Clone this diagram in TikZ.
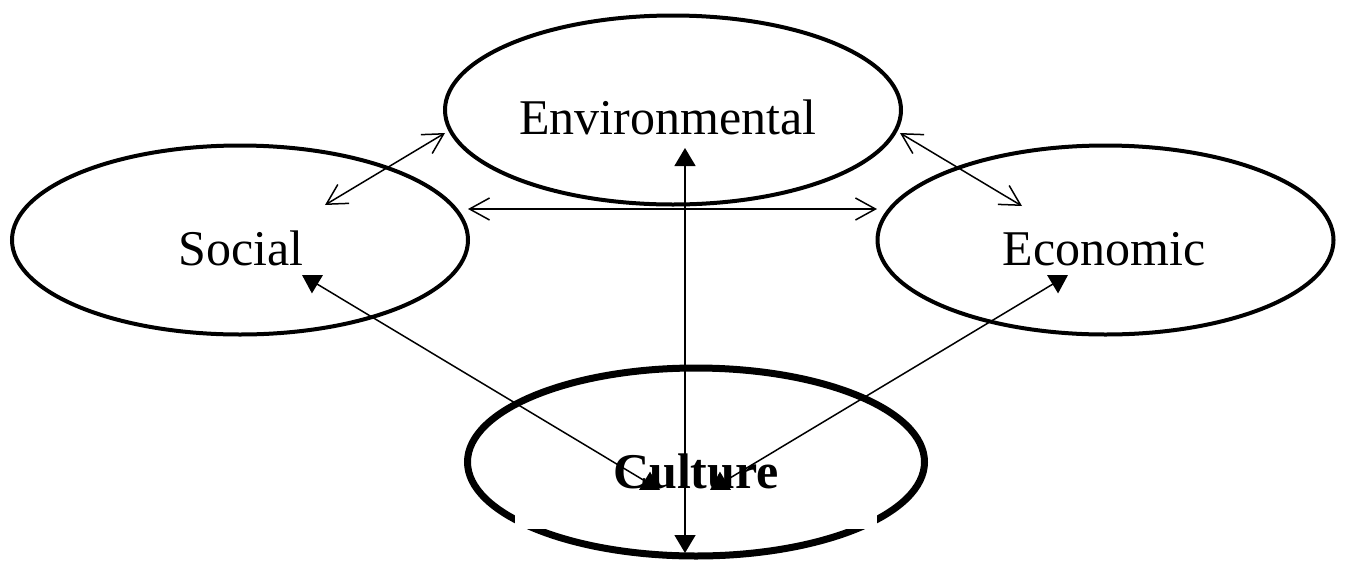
\documentclass[tikz,border=0pt]{standalone}
\usepackage{fontspec}
\setmainfont{Liberation Serif}
\usetikzlibrary{shapes.geometric,arrows.meta}

\begin{document}
\begin{tikzpicture}[x=0.5pt, y=-0.5pt]

            % Stijlen voor de ovalen, teksten en pijlen
            \tikzset{
                sphere/.style={ellipse, draw, line width=2pt, inner sep=0pt, minimum width=228pt, minimum height=94.5pt},
                coresphere/.style={ellipse, draw, line width=3.5pt, inner sep=0pt, minimum width=228.5pt, minimum height=94pt},
                spheretext/.style={anchor=base, inner sep=0pt, font=\fontsize{25}{30}\selectfont},
                openlink/.style={line width=0.75pt, {Straight Barb[length=10pt, width=11pt]}-{Straight Barb[length=10pt, width=11pt]}},
                solidlink/.style={line width=0.75pt, {Triangle[length=9pt, width=10.5pt]}-{Triangle[length=9pt, width=10.5pt]}}
            }

            \useasboundingbox (0, 0) rectangle (1345, 563);

            % --- OVALEN TEKENEN ---
            \node[sphere] (env) at (673, 110) {};
            \node[sphere] (soc) at (240, 240) {};
            \node[sphere] (eco) at (1105.5, 240) {};
            \node[coresphere] (cul) at (696, 462) {};

            % Witte strook over de onderkant van Culture
            \fill[white] (515, 512) rectangle (877, 529);

            % --- TEKSTEN ---
            \node[spheretext] (env-text) at (668, 134) {Environmental};
            \node[spheretext] (soc-text) at (241, 265) {Social};
            \node[spheretext] (eco-text) at (1104, 265) {Economic};
            \node[spheretext, font=\fontsize{25}{30}\selectfont\bfseries] (cul-text) at (696, 488) {Culture};

            % --- EINDPUNTEN VAN DE PIJLEN ---
            \coordinate (soc-env-a) at (325, 205);
            \coordinate (soc-env-b) at (445, 133);
            \coordinate (env-eco-a) at (900, 133);
            \coordinate (env-eco-b) at (1022, 206);
            \coordinate (soc-eco-a) at (468, 209);
            \coordinate (soc-eco-b) at (877, 209);
            \coordinate (env-cul-a) at (685, 148);
            \coordinate (env-cul-b) at (685, 553);
            \coordinate (soc-cul-a) at (302, 275);
            \coordinate (soc-cul-b) at (660, 490);
            \coordinate (eco-cul-a) at (1068, 275);
            \coordinate (eco-cul-b) at (710, 490);

            % --- PIJLEN TEKENEN ---
            % Open pijlen tussen de drie buitenste ovalen
            \foreach \a/\b in {soc-env-a/soc-env-b, env-eco-a/env-eco-b, soc-eco-a/soc-eco-b} {
                \draw[openlink] (\a) -- (\b);
            }
            % Dichte pijlen naar Culture
            \foreach \a/\b in {env-cul-a/env-cul-b, soc-cul-a/soc-cul-b, eco-cul-a/eco-cul-b} {
                \draw[solidlink] (\a) -- (\b);
            }

\end{tikzpicture}
\end{document}
